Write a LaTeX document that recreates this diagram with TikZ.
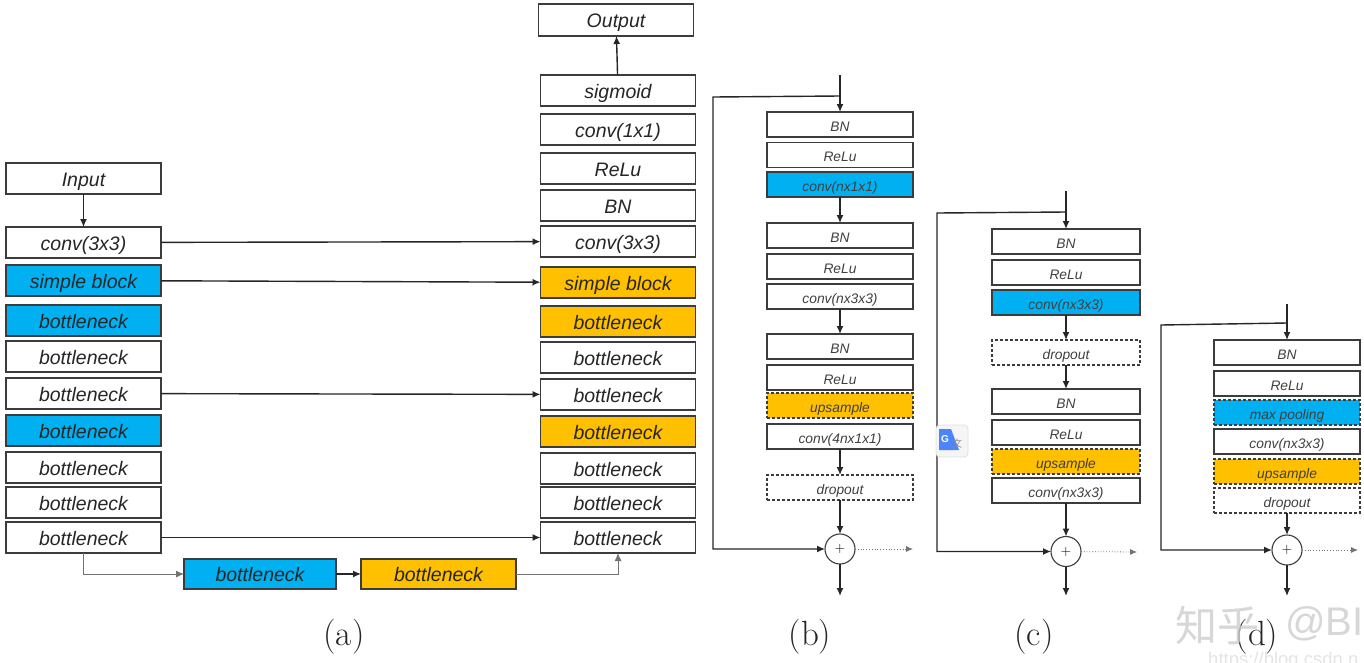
\documentclass[tikz,border=0pt]{standalone}
\usepackage{fontspec}
\setsansfont{Liberation Sans}
\newfontfamily\cjkwm{Noto Sans CJK SC}
\usetikzlibrary{positioning,calc,arrows.meta}
\definecolor{netblue}{RGB}{0,176,240}
\definecolor{netorange}{RGB}{255,192,0}
\definecolor{netline}{RGB}{60,60,60}
\definecolor{wmgray}{RGB}{205,205,205}

\begin{document}
\begin{tikzpicture}[x=1pt,y=-1pt,
				block/.style={outer sep=0pt,draw=netline,rectangle,line width=1.1pt,fill=white,text=black!85,inner sep=0pt,font=\sffamily\itshape},
				bigblock/.style={block,minimum width=155pt,minimum height=31pt,text height=15pt,text depth=0pt,font=\sffamily\itshape\fontsize{19.5}{22}\selectfont},
				smallblock/.style={block,minimum width=146pt,minimum height=25pt,text height=13pt,text depth=0pt,text=black!75,font=\sffamily\itshape\fontsize{13.8}{16}\selectfont},
				blue/.style={fill=netblue},
				orange/.style={fill=netorange},
				drop/.style={dashed,dash pattern=on 3pt off 2pt},
				plus/.style={circle,draw=netline,line width=1.1pt,fill=white,minimum size=30pt,inner sep=0pt,outer sep=0pt,font=\fontsize{14}{14}\selectfont},
				conn/.style={-{Latex[length=8pt,width=7pt]},draw=black!85,line width=1.4pt},
				thinconn/.style={-{Latex[length=8pt,width=7pt]},draw=black!55,line width=.9pt},
				dotconn/.style={-{Latex[length=7pt,width=6pt]},draw=black!55,line width=.8pt,dotted},
				caption/.style={font=\fontsize{35}{38}\selectfont,text=black!85,inner sep=0pt}]
				\useasboundingbox (0,0) rectangle (1364,662);
				\fill[white] (0,0) rectangle (1364,662);

				% encoder column
				\node[bigblock] (AIn)                       at (83.5,178.5) {Input};
				\node[bigblock] (AConv)  [below=33pt of AIn]   {conv(3x3)};
				\node[bigblock,blue] (ASimple) [below=7pt of AConv] {simple block};
				\node[bigblock,blue] (AB1) [below=9pt of ASimple]  {bottleneck};
				\node[bigblock] (AB2)    [below=5pt of AB1]    {bottleneck};
				\node[bigblock] (AB3)    [below=6pt of AB2]    {bottleneck};
				\node[bigblock,blue] (AB4) [below=6pt of AB3]  {bottleneck};
				\node[bigblock] (AB5)    [below=6pt of AB4]    {bottleneck};
				\node[bigblock] (AB6)    [below=4pt of AB5]    {bottleneck};
				\node[bigblock] (AB7)    [below=4pt of AB6]    {bottleneck};

				% decoder column
				\node[bigblock,minimum height=32pt] (OOut) at (616,20) {Output};
				\node[bigblock] (OSig)                      at (618,90.5) {sigmoid};
				\node[bigblock] (OConvA) [below=8pt of OSig]   {conv(1x1)};
				\node[bigblock] (ORelu)  [below=8pt of OConvA] {ReLu};
				\node[bigblock] (OBN)    [below=6pt of ORelu]  {BN};
				\node[bigblock] (OConv)  [below=5pt of OBN]    {conv(3x3)};
				\node[bigblock,orange] (OSimple) [below=10pt of OConv] {simple block};
				\node[bigblock,orange] (OB1) [below=8pt of OSimple] {bottleneck};
				\node[bigblock] (OB2)    [below=5pt of OB1]    {bottleneck};
				\node[bigblock] (OB3)    [below=6pt of OB2]    {bottleneck};
				\node[bigblock,orange] (OB4) [below=6pt of OB3] {bottleneck};
				\node[bigblock] (OB5)    [below=6pt of OB4]    {bottleneck};
				\node[bigblock] (OB6)    [below=3pt of OB5]    {bottleneck};
				\node[bigblock] (OB7)    [below=4pt of OB6]    {bottleneck};

				\node[bigblock,blue,minimum width=152pt,minimum height=30pt] (MidA)   at (260,574) {bottleneck};
				\node[bigblock,orange,minimum width=155pt,minimum height=30pt] (MidB) at (438.5,574) {bottleneck};

				\draw[conn] (AIn) -- (AConv);
				\draw[conn] (AConv) -- (OConv);
				\draw[conn] (ASimple) -- (OSimple);
				\draw[conn] (AB3) -- (OB3);
				\draw[conn] (AB7) -- (OB7);
				\draw[conn] (OSig) -- (OOut);
				\draw[conn] (MidA) -- (MidB);
				\draw[thinconn] (AB7.south) |- (MidA.west);
				\draw[thinconn] (MidB.east) -| (OB7.south);

				% block b
				\coordinate (bTop)   at (840,75);
				\coordinate (bSplit) at (840,96);
				\coordinate (bLeft)  at (713,97);
				\coordinate (bOut)   at (840,596);
				\coordinate (bSide)  at (913,549);
				\node[smallblock] (bBNa)                    at (840,124.5) {BN};
				\node[smallblock] (bRelua) [below=5.5pt of bBNa]  {ReLu};
				\node[smallblock,blue] (bConva) [below=4.5pt of bRelua] {conv(nx1x1)};
				\node[smallblock] (bBNb)   [below=26pt of bConva] {BN};
				\node[smallblock] (bRelub) [below=6pt of bBNb]    {ReLu};
				\node[smallblock] (bConvb) [below=5pt of bRelub]  {conv(nx3x3)};
				\node[smallblock] (bBNc)   [below=25pt of bConvb] {BN};
				\node[smallblock] (bReluc) [below=6pt of bBNc]    {ReLu};
				\node[smallblock,orange,drop] (bUp) [below=3pt of bReluc] {upsample};
				\node[smallblock] (bConvc) [below=6pt of bUp]     {conv(4nx1x1)};
				\node[smallblock,drop] (bDrop) [below=26pt of bConvc] {dropout};
				\node[plus] (bPlus) at (840,549) {+};

				\draw[conn] (bTop) -- (bBNa);
				\draw[conn] (bConva) -- (bBNb);
				\draw[conn] (bConvb) -- (bBNc);
				\draw[conn] (bConvc) -- (bDrop);
				\draw[conn] (bDrop) -- (bPlus);
				\draw[conn] (bSplit) -- (bLeft) |- (bPlus);
				\draw[conn] (bPlus) -- (bOut);
				\draw[dotconn] (bPlus) -- (bSide);

				% block c
				\coordinate (cTop)   at (1066,191);
				\coordinate (cSplit) at (1066,212);
				\coordinate (cLeft)  at (937,213);
				\coordinate (cOut)   at (1066,596);
				\coordinate (cSide)  at (1137,552);
				\node[smallblock,minimum width=148pt] (cBNa)                    at (1066,241.5) {BN};
				\node[smallblock,minimum width=148pt] (cRelua) [below=6pt of cBNa]    {ReLu};
				\node[smallblock,minimum width=148pt,blue] (cConva) [below=5pt of cRelua] {conv(nx3x3)};
				\node[smallblock,minimum width=148pt,drop] (cDrop)  [below=25pt of cConva] {dropout};
				\node[smallblock,minimum width=148pt] (cBNb)   [below=24pt of cDrop]  {BN};
				\node[smallblock,minimum width=148pt] (cRelub) [below=6pt of cBNb]    {ReLu};
				\node[smallblock,minimum width=148pt,orange,drop] (cUp) [below=4pt of cRelub] {upsample};
				\node[smallblock,minimum width=148pt] (cConvb) [below=4pt of cUp]     {conv(nx3x3)};
				\node[plus] (cPlus) at (1066,551.5) {+};

				\draw[conn] (cTop) -- (cBNa);
				\draw[conn] (cConva) -- (cDrop);
				\draw[conn] (cDrop) -- (cBNb);
				\draw[conn] (cConvb) -- (cPlus);
				\draw[conn] (cSplit) -- (cLeft) |- (cPlus);
				\draw[conn] (cPlus) -- (cOut);
				\draw[dotconn] (cPlus) -- (cSide);

				% block d
				\coordinate (dTop)   at (1287,304);
				\coordinate (dSplit) at (1287,323);
				\coordinate (dLeft)  at (1161,325);
				\coordinate (dOut)   at (1287,596);
				\coordinate (dSide)  at (1358,550);
				\node[smallblock] (dBN)                    at (1287,352.5) {BN};
				\node[smallblock] (dRelu)  [below=6pt of dBN]    {ReLu};
				\node[smallblock,blue,drop] (dPool) [below=4pt of dRelu] {max pooling};
				\node[smallblock] (dConv)  [below=4pt of dPool]  {conv(nx3x3)};
				\node[smallblock,orange,drop] (dUp) [below=5pt of dConv] {upsample};
				\node[smallblock,drop] (dDrop) [below=4pt of dUp] {dropout};
				\node[plus] (dPlus) at (1287,550) {+};

				\draw[conn] (dTop) -- (dBN);
				\draw[conn] (dDrop) -- (dPlus);
				\draw[conn] (dSplit) -- (dLeft) |- (dPlus);
				\draw[conn] (dPlus) -- (dOut);
				\draw[dotconn] (dPlus) -- (dSide);

				% captions
				\node[caption] (capA) at (344,637) {(a)};
				\node[caption] (capB) at (810,637) {(b)};
				\node[caption] (capC) at (1034,637) {(c)};
				\node[caption] (capD) at (1257,637) {(d)};

				% overlays of the screenshot
				\node[draw=black!12,fill=black!4,rounded corners=4pt,minimum size=32pt,inner sep=0pt,line width=.8pt] (gIcon) at (952,441) {};
				\fill[netblue!45!blue!70!white] (939,429) -- (951,429) -- (959,450) -- (939,450) -- cycle;
				\node[text=white,font=\sffamily\bfseries\fontsize{10}{10}\selectfont,inner sep=0pt] (gLetter) at (945,439) {G};
				\node[text=black!45,font=\cjkwm\fontsize{10}{10}\selectfont,inner sep=0pt] (gHan) at (957,444) {文};
				\node[text=wmgray,opacity=.8,anchor=west,inner sep=0pt,font=\cjkwm\fontsize{42}{44}\selectfont] (wmHan) at (1175,626) {知乎};
				\node[text=wmgray,opacity=.8,anchor=west,inner sep=0pt,font=\sffamily\fontsize{40}{44}\selectfont] (wmName) at (1285,624) {@BI};
				\node[text=black!10,anchor=west,inner sep=0pt,font=\sffamily\fontsize{18.5}{19}\selectfont] (wmUrl) at (1208,661) {https://blog.csdn.n};
			\end{tikzpicture}
\end{document}
